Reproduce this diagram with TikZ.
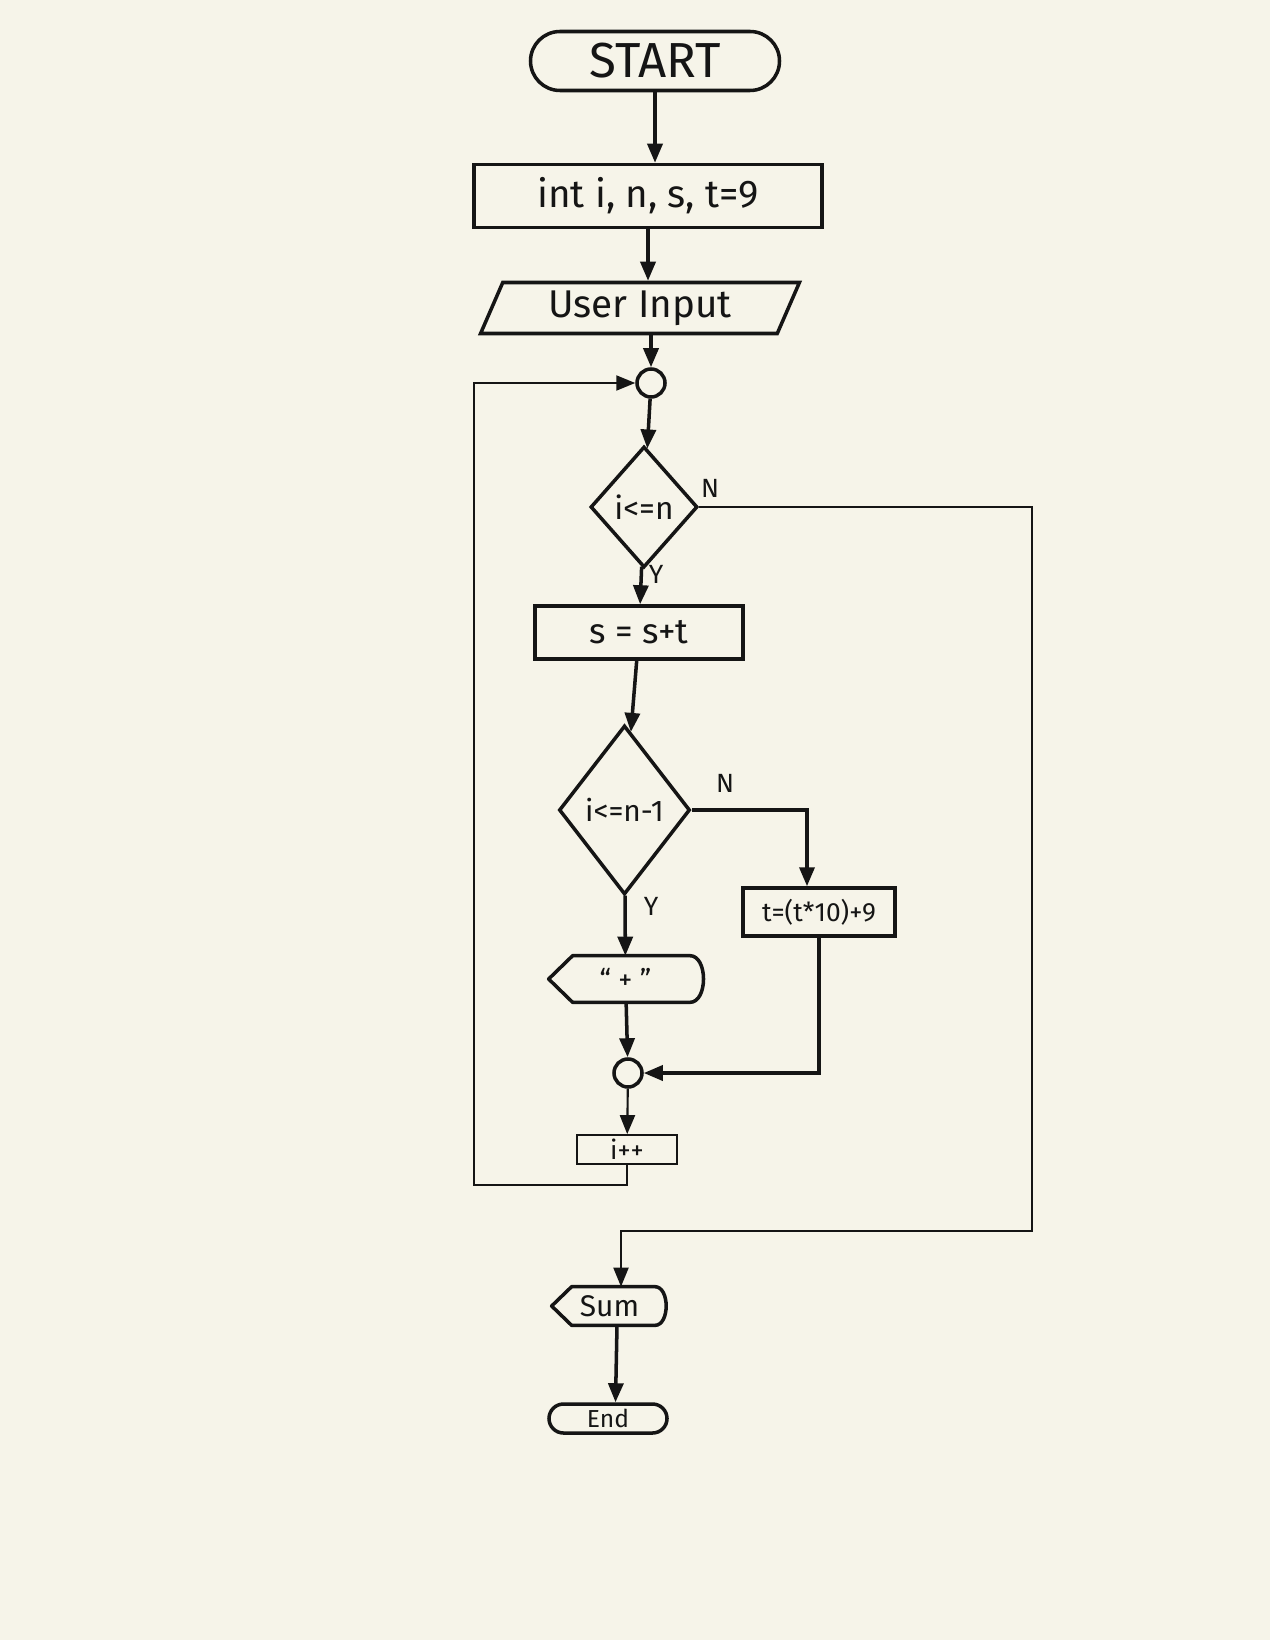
\documentclass[tikz,border=0pt]{standalone}
\usepackage{fontspec}
\setmainfont{Fira Sans}
\usetikzlibrary{shapes.geometric,shapes.misc,arrows.meta}
\definecolor{paper}{HTML}{F6F4E9}
\definecolor{ink}{HTML}{151515}
\newcommand{\fs}[1]{\fontsize{#1}{#1}\selectfont}
% outline of a display box: pointed left end, bulging right end
\newcommand{\dispoutline}[2]{%
  \draw[line, line join=round] ([xshift=#2]#1.north west) -- ([xshift=-0.25cm]#1.north east)
    to[out=0,in=0] ([xshift=-0.25cm]#1.south east) -- ([xshift=#2]#1.south west) -- (#1.west) -- cycle;}

\begin{document}
\begin{tikzpicture}[
    line/.style={draw=ink, line width=2pt},
    arr/.style={line, -{Triangle[length=0.38cm,width=0.3cm]}},
    thinarr/.style={draw=ink, line width=1.2pt, -{Triangle[length=0.38cm,width=0.3cm]}},
    base/.style={text=ink, inner sep=0pt},
    term/.style={base, line, rounded rectangle},
    proc/.style={base, line, rectangle},
    io/.style={base, line, trapezium, trapezium left angle=67, trapezium right angle=113, trapezium stretches=true},
    cond/.style={base, line, diamond},
    joint/.style={base, line, circle, minimum size=0.56cm},
    shown/.style={base},
    lbl/.style={text=ink, font=\fs{15}},
]
    \path[fill=paper] (0,0) rectangle (25.4,-32.8);

    \node[term, minimum width=4.98cm, minimum height=1.18cm, font=\fs{28}] (start) at (13.10,-1.22) {START};
    \node[proc, minimum width=6.96cm, minimum height=1.26cm, font=\fs{22}] (init) at (12.96,-3.92) {int i, n, s, t=9};
    \node[io, minimum width=6.38cm, minimum height=1.02cm, font=\fs{22}] (input) at (12.80,-6.16) {User Input};
    \node[joint] (jn1) at (13.02,-7.66) {};
    \node[cond, minimum width=2.14cm, minimum height=2.42cm, font=\fs{18}] (cond1) at (12.88,-10.14) {i<=n};
    \node[proc, minimum width=4.16cm, minimum height=1.06cm, font=\fs{20}] (add) at (12.78,-12.65) {s = s+t};
    \node[cond, minimum width=2.62cm, minimum height=3.38cm, font=\fs{17}] (cond2) at (12.49,-16.20) {i<=n-1};
    \node[proc, minimum width=3.04cm, minimum height=0.96cm, font=\fs{15}] (upd) at (16.38,-18.24) {t=(t*10)+9};
    \node[shown, minimum width=3.06cm, minimum height=0.92cm, font=\fs{16}] (plus) at (12.51,-19.58) {``~+~''};
    \node[joint] (jn2) at (12.56,-21.46) {};
    \node[proc, draw=ink, line width=1pt, minimum width=2.0cm, minimum height=0.58cm, font=\fs{15}] (inc) at (12.54,-22.99) {i++};
    \node[shown, minimum width=2.30cm, minimum height=0.76cm, font=\fs{17}] (total) at (12.19,-26.12) {Sum};
    \node[term, minimum width=2.36cm, minimum height=0.58cm, font=\fs{14}] (stop) at (12.16,-28.37) {End};

    \dispoutline{plus}{0.48cm}
    \dispoutline{total}{0.40cm}

    \node[lbl] (n1) at (14.20,-9.76) {N};
    \node[lbl] (y1) at (13.12,-11.48) {Y};
    \node[lbl] (n2) at (14.50,-15.66) {N};
    \node[lbl] (y2) at (13.02,-18.12) {Y};

    \coordinate (loopcorner) at (9.48,-23.70);
    \coordinate (exitcorner) at (20.64,-24.62);

    \draw[arr] (start.south) -- (start.south |- init.north);
    \draw[arr] (init.south) -- (init.south |- input.north);
    \draw[arr] (input.south -| jn1) -- (jn1.north);
    \draw[arr] (jn1) -- (cond1);
    \draw[arr] (cond1) -- (add);
    \draw[arr] (add) -- (cond2);
    \draw[arr] (cond2) -- (plus);
    \draw[arr] (cond2.east) -| ([xshift=-0.24cm]upd.north);
    \draw[arr] (plus) -- (jn2);
    \draw[arr] (upd.south) |- (jn2.east);
    \draw[thinarr] (jn2) -- (inc);
    \draw[thinarr] (inc.south) |- (loopcorner) |- (jn1.west);
    \draw[thinarr] (cond1.east) -| (exitcorner) -| ([xshift=0.23cm]total.north);
    \draw[arr] ([xshift=0.15cm]total.south) -- ([xshift=0.15cm]stop.north);
\end{tikzpicture}
\end{document}
